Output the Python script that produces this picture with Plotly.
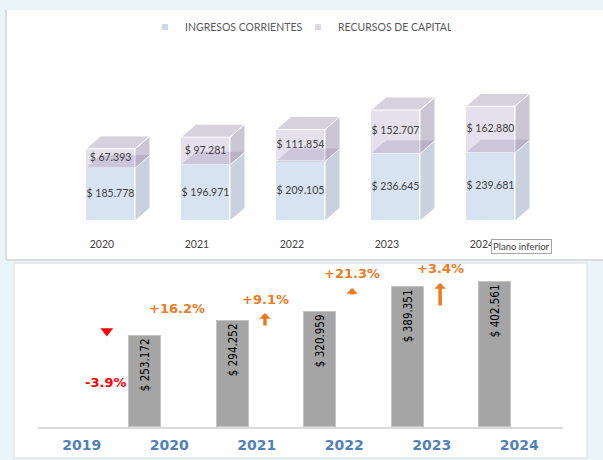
import plotly.graph_objects as go

# ---------------- data ----------------
years_top = ["2020", "2021", "2022", "2023", "2024"]
ingresos_corrientes = [185.778, 196.971, 209.105, 236.645, 239.681]
recursos_capital = [67.393, 97.281, 111.854, 152.707, 162.880]

years_bottom = ["2019", "2020", "2021", "2022", "2023", "2024"]
total_ingresos = [253.172, 294.252, 320.959, 389.351, 402.561]   # 2020..2024
growth_pct = [-3.9, 16.2, 9.1, 21.3, 3.4]                        # variación anual

# ---------------- layout helpers ----------------
W, H = 603, 460


def px_x(p):
    return p / W


def px_y(p):
    return 1 - p / H


FONT = "Lato, Carlito, Calibri, sans-serif"
NARROW = "DejaVu Sans Condensed, Liberation Sans Narrow, sans-serif"
BOLD = "DejaVu Sans, Verdana, sans-serif"

# colours of the 3-D columns
C_BLUE_FRONT = "#d7e3f0"
C_BLUE_SIDE = "#c8d1dd"
C_PURP_FRONT = "#e4e0ec"
C_PURP_SIDE = "#cbc6d4"
C_PURP_TOP = "#d6d1df"
C_SEEN_TOP = "rgba(120,105,150,0.21)"

# geometry of the 3-D columns (x in category units, depth in y units)
TOP_YMAX = 600.0
BW = 0.516
DX = 15 / 95
DY = 13 * TOP_YMAX / 171

fig = go.Figure()

# ---------------- upper chart: stacked 3-D columns ----------------
xs = list(range(len(years_top)))

fig.add_trace(go.Bar(x=xs, y=ingresos_corrientes, width=BW, name="INGRESOS CORRIENTES",
                     marker=dict(color=C_BLUE_FRONT, line=dict(color="white", width=1)),
                     showlegend=False, hoverinfo="skip", xaxis="x", yaxis="y"))
fig.add_trace(go.Bar(x=xs, y=recursos_capital, width=BW, name="RECURSOS DE CAPITAL",
                     marker=dict(color=C_PURP_FRONT, line=dict(color="white", width=1)),
                     showlegend=False, hoverinfo="skip", xaxis="x", yaxis="y"))


def poly_trace(polys, color, line_color="white"):
    px, py = [], []
    for poly in polys:
        for (a, b) in poly:
            px.append(a)
            py.append(b)
        px.append(poly[0][0])
        py.append(poly[0][1])
        px.append(None)
        py.append(None)
    return go.Scatter(x=px, y=py, mode="lines", fill="toself", fillcolor=color,
                      line=dict(color=line_color, width=1), showlegend=False,
                      hoverinfo="skip", xaxis="x", yaxis="y")


blue_side, purp_side, purp_top, seen_top = [], [], [], []
for i, (ic, rc) in enumerate(zip(ingresos_corrientes, recursos_capital)):
    xl, xr = i - BW / 2, i + BW / 2
    tot = ic + rc
    blue_side.append([(xr, 0), (xr + DX, DY), (xr + DX, ic + DY), (xr, ic)])
    purp_side.append([(xr, ic), (xr + DX, ic + DY), (xr + DX, tot + DY), (xr, tot)])
    purp_top.append([(xl, tot), (xl + DX, tot + DY), (xr + DX, tot + DY), (xr, tot)])
    seen_top.append([(xl, ic), (xl + DX, ic + DY), (xr + DX, ic + DY), (xr, ic)])

fig.add_trace(poly_trace(blue_side, C_BLUE_SIDE))
fig.add_trace(poly_trace(purp_side, C_PURP_SIDE))
fig.add_trace(poly_trace(seen_top, C_SEEN_TOP, line_color="rgba(0,0,0,0)"))
fig.add_trace(poly_trace(purp_top, C_PURP_TOP))

# value labels on the front faces
fig.add_trace(go.Scatter(
    x=xs + xs,
    y=[v / 2 for v in ingresos_corrientes] + [a + b / 2 for a, b in zip(ingresos_corrientes, recursos_capital)],
    mode="text",
    text=[f"$ {v:.3f}" for v in ingresos_corrientes] + [f"$ {v:.3f}" for v in recursos_capital],
    textfont=dict(family=FONT, size=10.5, color="#404040"),
    showlegend=False, hoverinfo="skip", xaxis="x", yaxis="y"))

# legend entries
fig.add_trace(go.Scatter(x=[None], y=[None], mode="markers", name="INGRESOS CORRIENTES",
                         marker=dict(symbol="square", size=6, color="#c9d8ea"), xaxis="x", yaxis="y"))
fig.add_trace(go.Scatter(x=[None], y=[None], mode="markers", name="RECURSOS DE CAPITAL",
                         marker=dict(symbol="square", size=6, color="#dcd6e6"), xaxis="x", yaxis="y"))

# ---------------- lower chart: total income ----------------
BAR_SHIFT = 0.275
xb = [i + 1 - BAR_SHIFT for i in range(len(total_ingresos))]
fig.add_trace(go.Bar(
    x=xb, y=total_ingresos, width=0.366,
    marker=dict(color="#a5a5a5", line=dict(color="#c4c4c4", width=1)),
    text=[f"$ {v:.3f}" for v in total_ingresos],
    textposition="inside", insidetextanchor="end", textangle=-90,
    textfont=dict(family=NARROW, size=11.5, color="black"),
    showlegend=False, hoverinfo="skip", xaxis="x2", yaxis="y2"))

# decrease marker for 2019
fig.add_trace(go.Scatter(x=[0.286], y=[267], mode="markers",
                         marker=dict(symbol="triangle-down", size=11, color="#ff0000"),
                         showlegend=False, hoverinfo="skip", xaxis="x2", yaxis="y2"))

ORANGE = "#ec7a1f"
label_pos = [(0.275, 125), (1.087, 331), (2.105, 356), (3.09, 426), (4.096, 440)]
annotations = []
for g, (lx, ly) in zip(growth_pct, label_pos):
    annotations.append(dict(
        x=lx, y=ly, xref="x2", yref="y2", text=f"{g:+.1f}%", showarrow=False,
        font=dict(family=BOLD, size=13, color="#ff0000" if g < 0 else ORANGE, weight="bold")))

# upward arrows (tip position, length in px)
for ax_x, tip_y, length in [(2.094, 317, 14), (3.09, 387, 8), (4.096, 401, 24)]:
    annotations.append(dict(
        x=ax_x, y=tip_y, xref="x2", yref="y2", ax=0, ay=length, text="",
        showarrow=True, arrowhead=1, arrowsize=0.55, arrowwidth=3.5, arrowcolor=ORANGE,
        standoff=0, startstandoff=0))

# tooltip box over the last category
annotations.append(dict(
    x=px_x(521), y=px_y(246), xref="paper", yref="paper", xanchor="center", yanchor="middle",
    text="Plano inferior", showarrow=False, font=dict(family=FONT, size=9.5, color="#404040"),
    bgcolor="white", bordercolor="#a6a6a6", borderwidth=1, borderpad=1))

# panels
shapes = [
    dict(type="rect", xref="paper", yref="paper", x0=px_x(6), x1=1.0, y0=px_y(260), y1=px_y(10),
         fillcolor="white", line=dict(width=0), layer="below"),
    dict(type="line", xref="paper", yref="paper", x0=px_x(6), x1=px_x(6), y0=px_y(260), y1=px_y(10),
         line=dict(color="#dcdcdc", width=2), layer="below"),
    dict(type="line", xref="paper", yref="paper", x0=px_x(6), x1=1.0, y0=px_y(260), y1=px_y(260),
         line=dict(color="#dcdcdc", width=2), layer="below"),
    dict(type="rect", xref="paper", yref="paper", x0=px_x(14), x1=px_x(587), y0=px_y(458), y1=px_y(263),
         fillcolor="white", line=dict(color="#dcdcdc", width=1), layer="below"),
]

fig.update_layout(
    width=W, height=H,
    margin=dict(l=0, r=0, t=0, b=0),
    paper_bgcolor="#e9f5f7",
    plot_bgcolor="rgba(0,0,0,0)",
    barmode="stack",
    bargap=0,
    shapes=shapes,
    annotations=annotations,
    showlegend=True,
    legend=dict(orientation="h", x=px_x(145), y=px_y(27), xanchor="left", yanchor="middle",
                traceorder="normal", entrywidth=108, entrywidthmode="pixels",
                font=dict(family=FONT, size=10.5, color="#595959"),
                bgcolor="rgba(0,0,0,0)", itemclick=False, itemdoubleclick=False),
    xaxis=dict(domain=[px_x(63), px_x(538)], range=[-0.5, 4.5], anchor="y",
               tickvals=[i - 0.09 for i in xs], ticktext=years_top,
               ticks="outside", ticklen=13, tickcolor="rgba(0,0,0,0)",
               tickfont=dict(family=FONT, size=10.5, color="#404040"),
               showgrid=False, zeroline=False, showline=False, fixedrange=True),
    yaxis=dict(domain=[px_y(221), px_y(50)], range=[0, TOP_YMAX], anchor="x",
               visible=False, fixedrange=True),
    xaxis2=dict(domain=[px_x(38), px_x(563)], range=[-0.5, 5.5], anchor="y2",
                tickvals=list(range(len(years_bottom))), ticktext=years_bottom,
                ticks="outside", ticklen=4, tickcolor="rgba(0,0,0,0)",
                tickfont=dict(family=BOLD, size=14, color="#4f81bd", weight="bold"),
                showgrid=False, zeroline=False, showline=True, linecolor="#dadada", linewidth=2,
                fixedrange=True),
    yaxis2=dict(domain=[px_y(427), px_y(265)], range=[0, 162 / 0.3594], anchor="x2",
                visible=False, fixedrange=True),
)

fig.write_html("out.html", config={"displayModeBar": False})
